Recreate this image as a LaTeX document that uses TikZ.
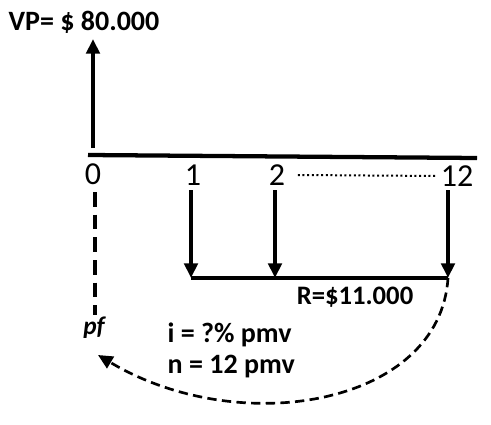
\documentclass[tikz,border=0pt]{standalone}
\usepackage{fontspec}
\setmainfont{Carlito}
\usetikzlibrary{arrows.meta}

\begin{document}
\begin{tikzpicture}[x=0.75pt, y=-0.75pt,
    flow/.style={line width=3pt, -{Triangle[length=11pt,width=10pt]}},
    bigbold/.style={font=\fontsize{21}{24}\selectfont\bfseries},
    period/.style={font=\fontsize{24}{26}\selectfont}]
  \useasboundingbox (0,0) rectangle (491,424);

  % Present value
  \node[bigbold] (vp) at (84,22) {VP= \$ 80.000};
  \coordinate (t0) at (93,148);
  \draw[flow] (t0) -- (93,39);

  % Time line
  \coordinate (lineL) at (88,155);
  \coordinate (lineR) at (477,158);
  \draw[line width=3.2pt] (lineL) -- (lineR);

  % Periods
  \node[period] (p0) at (93,174) {0};
  \node[period] (p1) at (193,175) {1};
  \node[period] (p2) at (277,175) {2};
  \node[period] (p12) at (457,176) {12};
  \draw[line width=1.5pt, dotted] (p2.east) ++(6pt,0) -- ([xshift=1pt]p12.west);

  % Payments
  \foreach \name/\x in {a/191,b/275,c/448}{
    \draw[flow] (\x,190) -- (\x,278) coordinate (r\name);
  }
  \draw[line width=2.4pt] (ra) -- (rc);
  \node[font=\fontsize{20}{22}\selectfont\bfseries] (rr) at (355,297) {R=\$11.000};

  % Focal point
  \draw[line width=3pt, dash pattern=on 11pt off 6pt] (95,192) -- (95,315);
  \node[font=\fontsize{19}{21}\selectfont\bfseries\itshape] (pf) at (94,328) {pf};
  \node[bigbold, anchor=west] (rate) at (163,335) {i = ?\% pmv};
  \node[bigbold, anchor=west] (nper) at (163,367) {n = 12 pmv};
  \coordinate (tip) at (98,355);
  \draw[line width=2pt, dash pattern=on 7pt off 4pt, -{Triangle[length=11pt,width=10pt]}]
    (rc) .. controls (440,405) and (240,440) .. (tip);
\end{tikzpicture}
\end{document}
